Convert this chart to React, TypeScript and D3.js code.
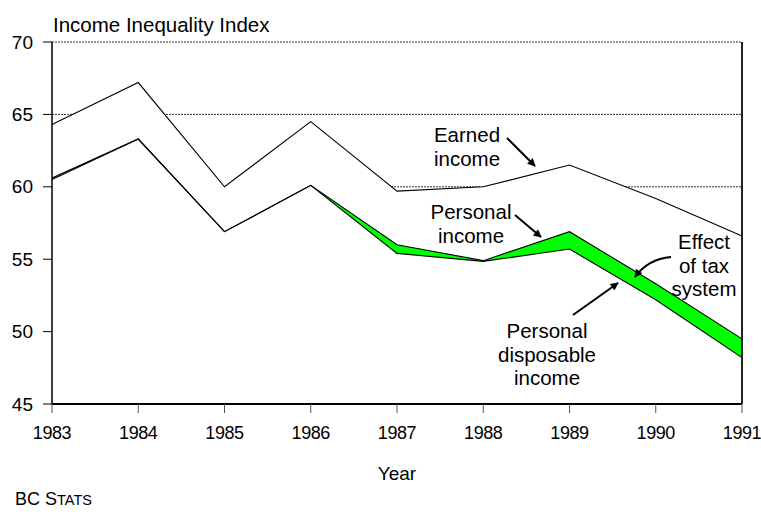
import React from "react";
import * as d3 from "d3";

const years = [1983, 1984, 1985, 1986, 1987, 1988, 1989, 1990, 1991];
const earned = [64.3, 67.2, 60.0, 64.5, 59.7, 60.0, 61.5, 59.2, 56.6];
const personal = [60.6, 63.3, 56.9, 60.1, 56.0, 54.9, 56.9, 53.3, 49.5];
const disposable = [60.5, 63.3, 56.9, 60.1, 55.4, 54.85, 55.7, 52.2, 48.2];
const yTicks = [45, 50, 55, 60, 65, 70];
const xTicks = years;

const W = 761;
const H = 517;
const FONT = "'Liberation Sans', Arial, Helvetica, sans-serif";

export default function App() {
  const x = d3.scaleLinear().domain([1983, 1991]).range([52, 742]);
  const y = d3.scaleLinear().domain([45, 70]).range([404, 42]);

  const idx = years.map((_, i) => i);
  const whiteArea = d3
    .area<number>()
    .x((i) => x(years[i]))
    .y0(y(45))
    .y1((i) => y(earned[i]))(idx) as string;
  const greenArea = d3
    .area<number>()
    .x((i) => x(years[i]))
    .y0((i) => y(disposable[i]))
    .y1((i) => y(personal[i]))(idx) as string;
  const mkLine = (arr: number[]) =>
    d3
      .line<number>()
      .x((i) => x(years[i]))
      .y((i) => y(arr[i]))(idx) as string;

  const annFont = 20.5;

  return (
    <svg
      width={W}
      height={H}
      style={{ position: "absolute", left: 0, top: 0, background: "#fff" }}
      fontFamily={FONT}
    >
      <defs>
        <marker
          id="ah"
          viewBox="0 0 10 10"
          refX="9"
          refY="5"
          markerWidth="10"
          markerHeight="8"
          markerUnits="userSpaceOnUse"
          orient="auto"
        >
          <path d="M0,0 L10,5 L0,10 z" fill="#000" />
        </marker>
      </defs>
      <rect x={0} y={0} width={W} height={H} fill="#fff" />

      {/* gridlines */}
      {yTicks
        .filter((t) => t !== 45)
        .map((t) => (
          <line
            key={"g" + t}
            x1={x(1983)}
            x2={x(1991)}
            y1={y(t)}
            y2={y(t)}
            stroke="#333"
            strokeWidth={1}
            strokeDasharray="2,1"
          />
        ))}

      {/* white area under earned */}
      <path d={whiteArea} fill="#fff" />
      {/* green band */}
      <path d={greenArea} fill="#00ff00" />

      <path d={mkLine(earned)} fill="none" stroke="#000" strokeWidth={1.1} />
      <path d={mkLine(personal)} fill="none" stroke="#000" strokeWidth={1.1} />
      <path d={mkLine(disposable)} fill="none" stroke="#000" strokeWidth={1.1} />

      {/* axes */}
      <line x1={x(1983)} x2={x(1983)} y1={y(70)} y2={y(45)} stroke="#000" strokeWidth={1.5} />
      <line x1={x(1991)} x2={x(1991)} y1={y(70)} y2={y(45)} stroke="#222" strokeWidth={2} />
      <line x1={x(1983)} x2={x(1991)} y1={y(45)} y2={y(45)} stroke="#000" strokeWidth={2} />
      {yTicks.map((t) => (
        <g key={"yt" + t}>
          <line x1={x(1983) - 9} x2={x(1983)} y1={y(t)} y2={y(t)} stroke="#000" strokeWidth={1} />
          <text x={33} y={y(t)} dy="0.35em" textAnchor="end" fontSize={19} fill="#000">
            {t}
          </text>
        </g>
      ))}
      {xTicks.map((t) => (
        <g key={"xt" + t}>
          <line x1={x(t)} x2={x(t)} y1={y(45)} y2={y(45) + 9} stroke="#555" strokeWidth={1} />
          <text
            x={x(t)}
            y={439}
            textAnchor="middle"
            fontSize={18}
            letterSpacing={-0.4}
            fill="#000"
          >
            {t}
          </text>
        </g>
      ))}

      {/* titles */}
      <text x={53} y={32} fontSize={20.5} fill="#000">
        Income Inequality Index
      </text>
      <text x={(x(1983) + x(1991)) / 2} y={480} textAnchor="middle" fontSize={19} fill="#000">
        Year
      </text>
      <text x={15} y={505} fontSize={18} fill="#000">
        BC S<tspan fontSize={14.5}>TATS</tspan>
      </text>

      {/* annotations */}
      <g fontSize={annFont} fill="#000" textAnchor="middle">
        <text x={467} y={142}>Earned</text>
        <text x={467} y={166}>income</text>
        <text x={471} y={219}>Personal</text>
        <text x={471} y={243}>income</text>
        <text x={704} y={249}>Effect</text>
        <text x={704} y={272.5}>of tax</text>
        <text x={704} y={296}>system</text>
        <text x={547} y={338}>Personal</text>
        <text x={547} y={361.5}>disposable</text>
        <text x={547} y={385}>income</text>
      </g>

      <g stroke="#000" strokeWidth={2} fill="none">
        <line x1={507} y1={138} x2={535} y2={166} markerEnd="url(#ah)" />
        <line x1={515} y1={215} x2={541} y2={237} markerEnd="url(#ah)" />
        <path d="M671,257 Q648,259 635,277" markerEnd="url(#ah)" />
        <line x1={573} y1={315} x2={618} y2={283} markerEnd="url(#ah)" />
      </g>
    </svg>
  );
}
